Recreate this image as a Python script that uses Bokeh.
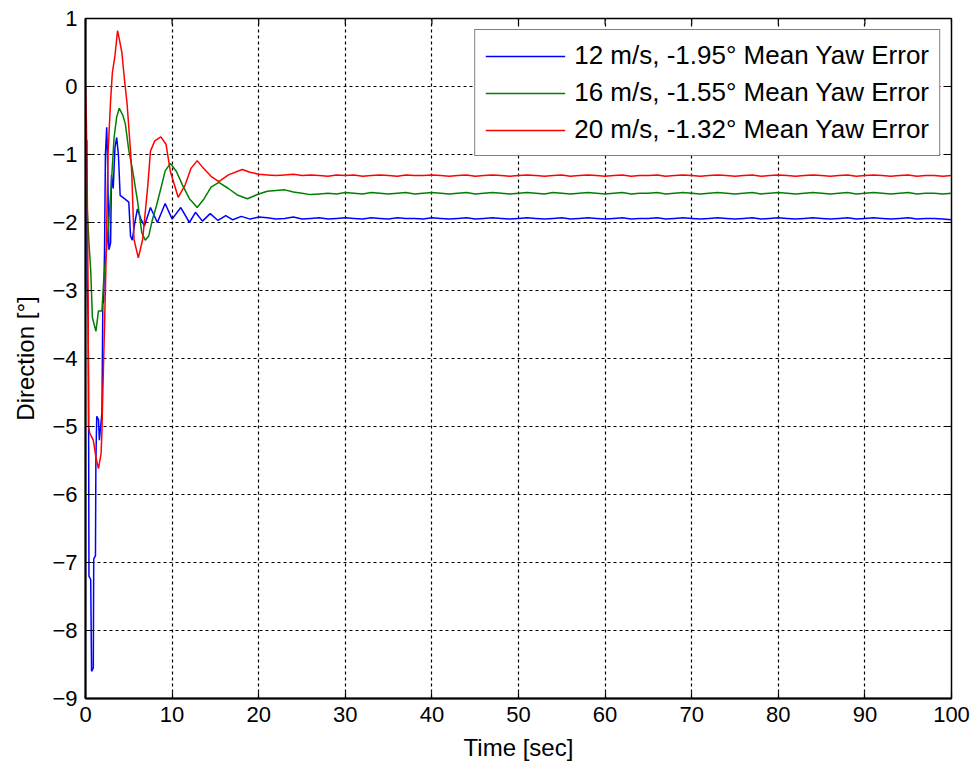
from bokeh.plotting import figure
from bokeh.models import FixedTicker, Legend, LegendItem, Range1d
from bokeh.embed import file_html
from bokeh.resources import INLINE

# ---- data ----
t_blue_early = [0.0, 0.15, 0.2, 0.3, 0.35, 0.4, 0.6, 0.7, 0.9, 0.95, 1.15, 1.2, 1.3, 1.5, 1.6, 1.9,
                2.0, 2.1, 2.2, 2.3, 2.45, 2.55, 2.7, 2.9, 3.0, 3.2, 3.4, 3.6, 3.8, 4.0, 4.5, 5.0,
                5.2, 5.4, 5.7, 6.0, 6.4, 6.8, 7.5, 8.3, 9.2, 10.0, 11.0, 12.0, 12.7, 13.5, 14.4,
                15.3, 16.2, 17.0, 18.0, 19.0, 20.0]
v_blue_early = [-0.75, -0.8, -2.9, -3.4, -4.4, -7.2, -7.25, -8.6, -8.55, -6.95, -6.9, -5.5, -4.85,
                -4.9, -5.2, -4.8, -3.2, -3.15, -2.4, -1.0, -0.6, -1.1, -2.4, -2.3, -1.3, -1.5, -0.9,
                -0.75, -1.0, -1.6, -1.65, -1.7, -2.2, -2.26, -2.0, -1.8, -1.95, -2.05, -1.78, -2.0,
                -1.72, -1.95, -1.78, -2.0, -1.85, -1.98, -1.87, -1.97, -1.9, -1.96, -1.91, -1.95,
                -1.92]

t_green_early = [0.0, 0.2, 0.4, 0.6, 0.8, 1.2, 1.5, 1.9, 2.1, 2.5, 2.9, 3.3, 3.6, 3.9, 4.3, 4.6,
                 5.0, 5.4, 6.0, 6.5, 6.9, 7.3, 7.7, 8.2, 8.7, 9.2, 9.8, 10.5, 11.2, 12.0, 12.9,
                 13.7, 14.5, 15.4, 16.5, 17.6, 18.7, 20.0]
v_green_early = [-1.3, -1.8, -2.3, -2.7, -3.4, -3.6, -3.3, -3.3, -2.85, -2.3, -1.6, -0.75, -0.45,
                 -0.32, -0.42, -0.55, -0.94, -1.2, -1.68, -2.15, -2.26, -2.2, -1.97, -1.75, -1.5,
                 -1.24, -1.13, -1.25, -1.45, -1.65, -1.78, -1.65, -1.48, -1.41, -1.5, -1.6, -1.65,
                 -1.58]

t_red_early = [0.0, 0.1, 0.2, 0.3, 0.35, 0.5, 0.9, 1.2, 1.5, 1.8, 1.9, 2.0, 2.2, 2.35, 2.6, 2.9,
               3.1, 3.4, 3.7, 3.9, 4.2, 4.5, 4.8, 5.2, 5.35, 5.6, 6.1, 6.6, 7.2, 7.5, 8.0, 8.7,
               9.3, 9.8, 10.7, 11.5, 12.2, 12.9, 13.6, 14.5, 15.4, 16.5, 18.1, 19.0, 20.0]
v_red_early = [0.05, -0.5, -1.5, -3.0, -5.0, -5.1, -5.2, -5.45, -5.62, -5.4, -5.06, -4.5, -3.5,
               -2.7, -1.0, -0.2, 0.2, 0.45, 0.82, 0.7, 0.5, 0.1, -0.25, -0.95, -1.3, -2.25, -2.52,
               -2.25, -1.45, -0.95, -0.8, -0.74, -0.85, -1.25, -1.63, -1.45, -1.2, -1.09, -1.2,
               -1.32, -1.4, -1.3, -1.22, -1.26, -1.29]

t_steady = list(range(21, 101))
v_blue_steady = [-1.93, -1.95, -1.94, -1.92, -1.95, -1.94, -1.93, -1.95, -1.94, -1.93,
                 -1.94, -1.95, -1.93, -1.94, -1.95, -1.93, -1.94, -1.94, -1.95, -1.93,
                 -1.94, -1.95, -1.94, -1.93, -1.95, -1.94, -1.93, -1.94, -1.95, -1.94,
                 -1.93, -1.94, -1.95, -1.94, -1.93, -1.95, -1.94, -1.93, -1.94, -1.95,
                 -1.94, -1.93, -1.95, -1.94, -1.94, -1.93, -1.95, -1.94, -1.93, -1.94,
                 -1.95, -1.94, -1.93, -1.94, -1.95, -1.94, -1.93, -1.95, -1.94, -1.93,
                 -1.94, -1.95, -1.94, -1.93, -1.94, -1.95, -1.94, -1.93, -1.95, -1.94,
                 -1.93, -1.94, -1.95, -1.94, -1.93, -1.95, -1.94, -1.94, -1.95, -1.96]
v_green_steady = [-1.54, -1.53, -1.52, -1.55, -1.57, -1.59, -1.58, -1.57, -1.58, -1.56,
                  -1.57, -1.58, -1.56, -1.57, -1.58, -1.57, -1.56, -1.58, -1.57, -1.56,
                  -1.57, -1.58, -1.57, -1.56, -1.58, -1.57, -1.56, -1.57, -1.58, -1.57,
                  -1.56, -1.57, -1.58, -1.56, -1.57, -1.58, -1.57, -1.56, -1.57, -1.58,
                  -1.57, -1.56, -1.58, -1.57, -1.57, -1.56, -1.58, -1.57, -1.56, -1.57,
                  -1.58, -1.57, -1.56, -1.57, -1.58, -1.57, -1.56, -1.58, -1.57, -1.56,
                  -1.57, -1.58, -1.57, -1.56, -1.57, -1.58, -1.57, -1.56, -1.58, -1.57,
                  -1.56, -1.57, -1.58, -1.57, -1.56, -1.58, -1.57, -1.57, -1.58, -1.57]
v_red_steady = [-1.30, -1.31, -1.30, -1.29, -1.31, -1.30, -1.31, -1.32, -1.30, -1.31,
                -1.30, -1.32, -1.31, -1.30, -1.31, -1.32, -1.30, -1.31, -1.31, -1.30,
                -1.31, -1.32, -1.31, -1.30, -1.32, -1.31, -1.30, -1.31, -1.32, -1.31,
                -1.30, -1.31, -1.32, -1.31, -1.30, -1.32, -1.31, -1.30, -1.31, -1.32,
                -1.31, -1.30, -1.32, -1.31, -1.31, -1.30, -1.32, -1.31, -1.30, -1.31,
                -1.32, -1.31, -1.30, -1.31, -1.32, -1.31, -1.30, -1.32, -1.31, -1.30,
                -1.31, -1.32, -1.31, -1.30, -1.31, -1.32, -1.31, -1.30, -1.32, -1.31,
                -1.30, -1.31, -1.32, -1.31, -1.30, -1.32, -1.31, -1.31, -1.32, -1.31]

labels = ["12 m/s, -1.95\u00b0 Mean Yaw Error",
          "16 m/s, -1.55\u00b0 Mean Yaw Error",
          "20 m/s, -1.32\u00b0 Mean Yaw Error"]
colors = ["#0000ff", "#008000", "#ff0000"]
x_ticks = list(range(0, 101, 10))
y_ticks = list(range(-9, 2))
X_MIN, X_MAX = 0, 100
Y_MIN, Y_MAX = -9, 1

FONT = "Liberation Sans"

p = figure(width=976, height=769, output_backend="svg", toolbar_location=None,
           x_range=Range1d(X_MIN, X_MAX), y_range=Range1d(Y_MIN, Y_MAX),
           min_border_left=85, min_border_right=25, min_border_top=18, min_border_bottom=71)
p.background_fill_color = "white"
p.border_fill_color = "white"
p.outline_line_color = "black"
p.outline_line_width = 1.5

# grid
for g in (p.xgrid, p.ygrid):
    g.grid_line_color = "black"
    g.grid_line_dash = "3 3"
    g.grid_line_width = 1.2
p.xgrid.ticker = FixedTicker(ticks=x_ticks)
p.ygrid.ticker = FixedTicker(ticks=y_ticks)

# axes
for ax in (p.xaxis[0], p.yaxis[0]):
    ax.major_tick_in = 6
    ax.major_tick_out = 0
    ax.minor_tick_in = 0
    ax.minor_tick_out = 0
    ax.major_tick_line_color = "black"
    ax.major_tick_line_width = 1.2
    ax.axis_line_color = "black"
    ax.axis_line_width = 2
    ax.major_label_text_font = FONT
    ax.major_label_text_font_size = "22px"
    ax.major_label_text_color = "black"
    ax.axis_label_text_font = FONT
    ax.axis_label_text_font_size = "24px"
    ax.axis_label_text_font_style = "normal"
    ax.axis_label_text_color = "black"
p.xaxis[0].ticker = FixedTicker(ticks=x_ticks)
p.yaxis[0].ticker = FixedTicker(ticks=y_ticks)
p.xaxis[0].axis_label = "Time [sec]"
p.yaxis[0].axis_label = "Direction [\u00b0]"
p.xaxis[0].major_label_standoff = 8
p.yaxis[0].major_label_standoff = 8
p.xaxis[0].axis_label_standoff = 9
p.yaxis[0].axis_label_standoff = 10

# mirrored inward tick marks on the top and right edges of the box
top_len = (Y_MAX - Y_MIN) * 6 / 680.0
right_len = (X_MAX - X_MIN) * 6 / 866.0
p.segment(x0=x_ticks, y0=[Y_MAX] * len(x_ticks), x1=x_ticks, y1=[Y_MAX - top_len] * len(x_ticks),
          line_color="black", line_width=1.2)
p.segment(x0=[X_MAX] * len(y_ticks), y0=y_ticks, x1=[X_MAX - right_len] * len(y_ticks), y1=y_ticks,
          line_color="black", line_width=1.2)

series = [
    (t_blue_early + t_steady, v_blue_early + v_blue_steady),
    (t_green_early + t_steady, v_green_early + v_green_steady),
    (t_red_early + t_steady, v_red_early + v_red_steady),
]
renderers = []
for (t, v), c in zip(series, colors):
    r = p.line(t, v, line_color=c, line_width=1.5)
    renderers.append(r)

legend = Legend(items=[LegendItem(label=l, renderers=[r]) for l, r in zip(labels, renderers)],
                location="top_right")
legend.label_text_font = FONT
legend.label_text_font_size = "26px"
legend.label_text_color = "black"
legend.glyph_width = 80
legend.glyph_height = 30
legend.label_height = 30
legend.label_standoff = 9
legend.spacing = 6
legend.padding = 10
legend.margin = 11
legend.border_line_color = "black"
legend.border_line_width = 1.5
legend.background_fill_color = "white"
legend.background_fill_alpha = 1
p.add_layout(legend, "center")

open("out.html", "w").write(file_html(p, INLINE))
